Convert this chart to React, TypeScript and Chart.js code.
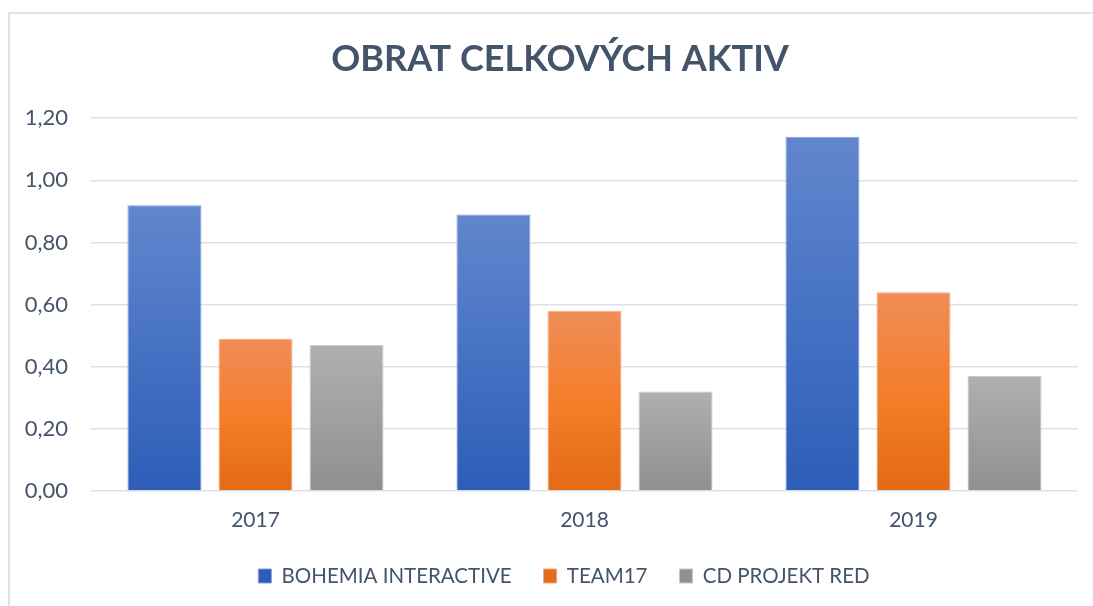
import React, { useEffect, useRef } from "react";
import { Chart, registerables } from "chart.js";

Chart.register(...registerables);

const chartTitle = "OBRAT CELKOVÝCH AKTIV";
const categories = ["2017", "2018", "2019"];
const seriesNames = ["BOHEMIA INTERACTIVE", "TEAM17", "CD PROJEKT RED"];
const bohemiaValues = [0.92, 0.89, 1.14];
const team17Values = [0.49, 0.58, 0.64];
const cdprValues = [0.47, 0.32, 0.37];
const yMin = 0;
const yMax = 1.2;
const yStep = 0.2;

const TEXT = "#44546A";
const GRID = "#DEE2E7";
const FONT = "Lato, 'Open Sans', sans-serif";

function gradientFill(top: string, mid: string, bottom: string, solid: string) {
  return (ctx: any) => {
    const chart = ctx.chart;
    const y = chart.scales && chart.scales.y;
    if (ctx.type !== "data" || !y || typeof ctx.raw !== "number") return solid;
    const y0 = y.getPixelForValue(ctx.raw);
    const y1 = y.getPixelForValue(0);
    if (!isFinite(y0) || !isFinite(y1) || y0 === y1) return solid;
    const g = chart.ctx.createLinearGradient(0, y0, 0, y1);
    g.addColorStop(0, top);
    g.addColorStop(0.5, mid);
    g.addColorStop(1, bottom);
    return g;
  };
}

const centerShift = {
  id: "centerShift",
  afterLayout(chart: any) {
    if (chart.titleBlock) chart.titleBlock.left = 32;
    if (chart.legend) chart.legend.left = 40;
  },
};

export default function App() {
  const ref = useRef<HTMLCanvasElement | null>(null);
  useEffect(() => {
    if (!ref.current) return;
    const chart = new Chart(ref.current, {
      type: "bar",
      data: {
        labels: categories,
        datasets: [
          {
            label: seriesNames[0],
            data: bohemiaValues,
            backgroundColor: gradientFill("#6286CD", "#4672C4", "#2D5DB7", "#3F6BC2"),
            borderColor: "#7E9DDA",
            borderWidth: 1,
          },
          {
            label: seriesNames[1],
            data: team17Values,
            backgroundColor: gradientFill("#F08D58", "#F47E2A", "#E36A16", "#EE7A2A"),
            borderColor: "#F6A878",
            borderWidth: 1,
          },
          {
            label: seriesNames[2],
            data: cdprValues,
            backgroundColor: gradientFill("#AFAFAF", "#A0A0A0", "#8F8F8F", "#A0A0A0"),
            borderColor: "#C8C8C8",
            borderWidth: 1,
          },
        ],
      },
      plugins: [centerShift],
      options: {
        animation: false,
        responsive: false,
        maintainAspectRatio: false,
        layout: { padding: { left: 0, right: 32, top: 0, bottom: 0 } },
        datasets: {
          bar: { categoryPercentage: 0.83, barPercentage: 0.813 },
        },
        plugins: {
          title: {
            display: true,
            text: chartTitle,
            color: TEXT,
            font: { family: FONT, size: 36, weight: "bold" },
            padding: { top: 24, bottom: 37 },
          },
          legend: {
            position: "bottom",
            labels: {
              color: TEXT,
              font: { family: FONT, size: 20.5 },
              boxWidth: 13,
              boxHeight: 14,
              padding: 32,
            },
          },
          tooltip: { enabled: false },
        },
        scales: {
          x: {
            grid: { display: false, drawTicks: false },
            border: { display: false },
            ticks: { color: TEXT, font: { family: FONT, size: 21 }, padding: 17 },
            afterFit: (scale: any) => {
              scale.height = 42.75;
            },
          },
          y: {
            min: yMin,
            max: yMax,
            grid: { color: GRID, lineWidth: 1.5, drawTicks: false },
            border: { display: false },
            ticks: {
              stepSize: yStep,
              color: TEXT,
              font: { family: FONT, size: 22 },
              padding: 23,
              callback: (v: any) => Number(v).toFixed(2).replace(".", ","),
            },
            afterFit: (scale: any) => {
              scale.width = 81;
            },
          },
        },
      },
    });
    const legend: any = (chart as any).legend;
    if (legend) {
      const origFit = legend.fit.bind(legend);
      legend.fit = function () {
        origFit();
        this.height = 72.25;
      };
      chart.update();
    }
    return () => chart.destroy();
  }, []);

  return (
    <div
      style={{
        position: "fixed",
        left: 0,
        top: 0,
        width: 1093,
        height: 606,
        overflow: "hidden",
        background: "#FFFFFF",
      }}
    >
      <div
        style={{
          position: "absolute",
          left: 8,
          top: 12,
          width: 1100,
          height: 620,
          border: `2px solid ${GRID}`,
          background: "#FFFFFF",
        }}
      >
        <canvas ref={ref} width={1100} height={592} style={{ display: "block", width: 1100, height: 592 }} />
      </div>
    </div>
  );
}
